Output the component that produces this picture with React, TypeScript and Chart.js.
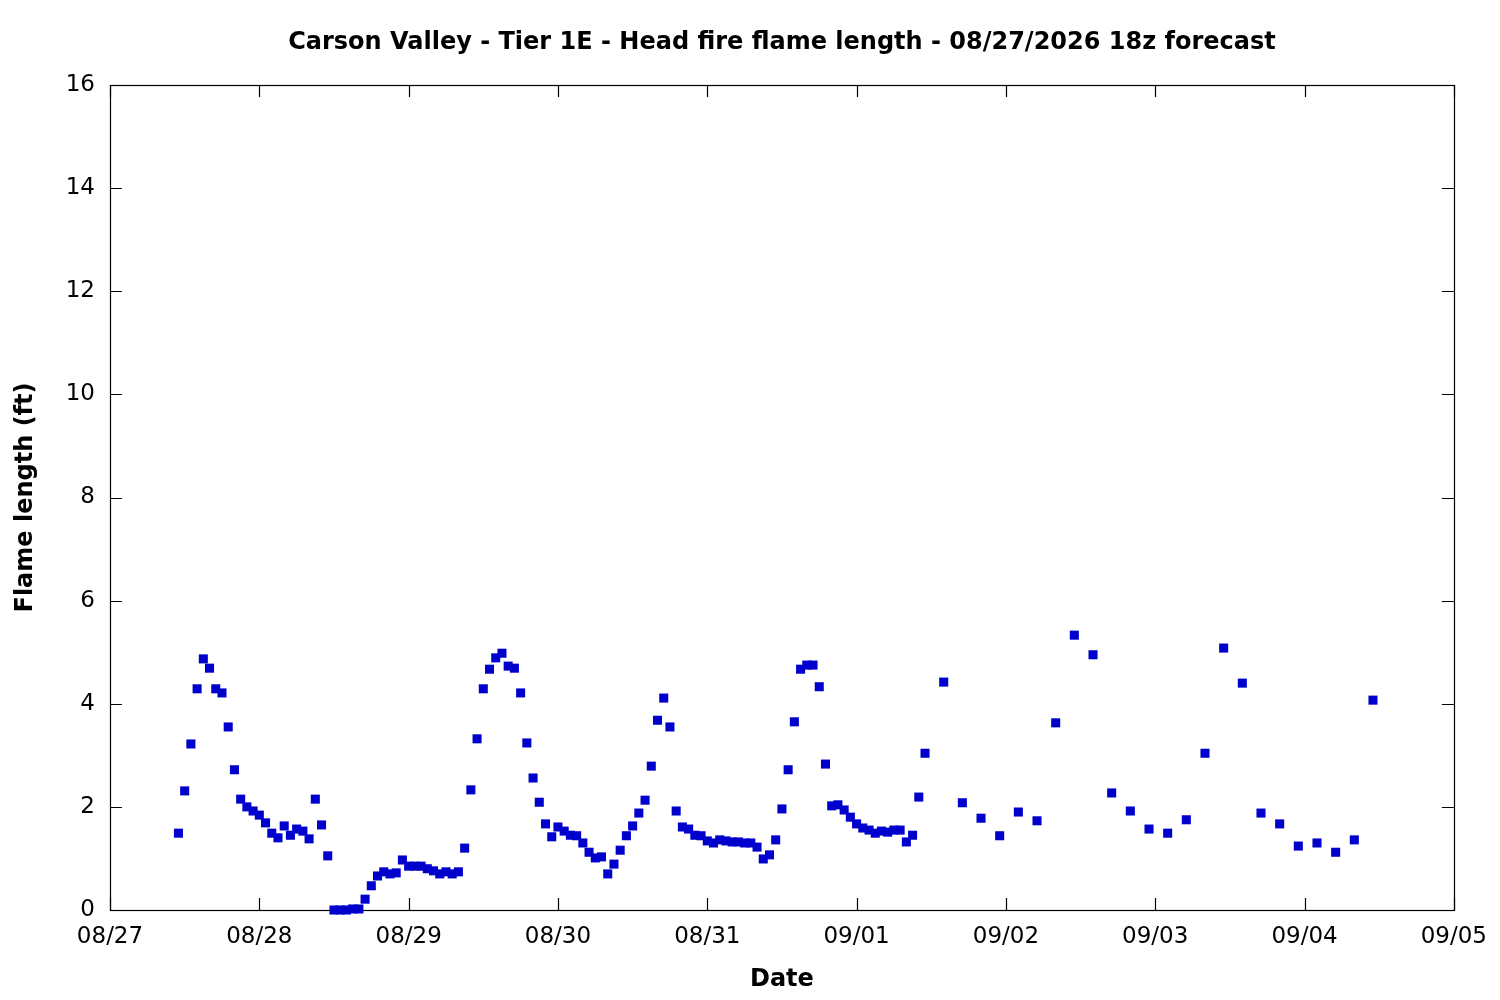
import React, { useEffect, useRef } from 'react';
import { Chart, registerables, Plugin } from 'chart.js';

Chart.register(...registerables);

// hours are counted from 08/27 00:00 local time
const dayLabels = ['08/27', '08/28', '08/29', '08/30', '08/31', '09/01', '09/02', '09/03', '09/04', '09/05'];
const yTicks = [0, 2, 4, 6, 8, 10, 12, 14, 16];

const hourlyStart = 11;
const hourlyValues = [
    1.49, 2.31, 3.22, 4.29, 4.87, 4.69, 4.29, 4.21, 3.55, 2.72, 2.15, 2.0, 1.92, 1.84, 1.69, 1.49, 1.4, 1.63, 1.45, 1.57,
    1.53, 1.38, 2.15, 1.65, 1.05, 0, 0, 0, 0.02, 0.02, 0.21, 0.47, 0.66, 0.74, 0.7, 0.72, 0.97, 0.85, 0.85, 0.85,
    0.8, 0.76, 0.7, 0.74, 0.7, 0.74, 1.2, 2.33, 3.32, 4.29, 4.67, 4.89, 4.98, 4.73, 4.69, 4.21, 3.24, 2.56, 2.09, 1.67,
    1.42, 1.61, 1.53, 1.45, 1.44, 1.3, 1.12, 1.01, 1.03, 0.7, 0.89, 1.16, 1.44, 1.63, 1.88, 2.13, 2.79, 3.68, 4.11, 3.55,
    1.92, 1.61, 1.57, 1.45, 1.44, 1.34, 1.3, 1.36, 1.34, 1.32, 1.32, 1.3, 1.3, 1.22, 0.99, 1.07, 1.36, 1.96, 2.72, 3.65,
    4.67, 4.75, 4.75, 4.33, 2.83, 2.02, 2.04, 1.94, 1.8, 1.67, 1.59, 1.55, 1.49, 1.53, 1.51, 1.55, 1.55, 1.32, 1.45, 2.19,
    3.04,
];

const threeHourlyStart = 134;
const threeHourlyValues = [
    4.42, 2.08, 1.78, 1.44, 1.9, 1.73, 3.63, 5.33, 4.95, 2.27, 1.92, 1.57, 1.49, 1.75, 3.04, 5.08, 4.4, 1.88, 1.67, 1.24,
    1.3, 1.12, 1.36, 4.07,
];

const FONT = '"DejaVu Sans", sans-serif';

// gnuplot-like frame with inward ticks on all four sides
const framePlugin: Plugin = {
    id: 'frame',
    beforeDatasetsDraw(chart) {
        const { ctx, chartArea: a, scales } = chart;
        const x = scales.x;
        const y = scales.y;
        const len = 12;
        ctx.save();
        ctx.strokeStyle = '#000';
        ctx.lineWidth = 1.2;
        ctx.beginPath();
        dayLabels.forEach((_, i) => {
            const px = Math.round(x.getPixelForValue(i * 24)) + 0.5;
            ctx.moveTo(px, a.bottom);
            ctx.lineTo(px, a.bottom - len);
            ctx.moveTo(px, a.top);
            ctx.lineTo(px, a.top + len);
        });
        yTicks.forEach((v) => {
            const py = Math.round(y.getPixelForValue(v)) + 0.5;
            ctx.moveTo(a.left, py);
            ctx.lineTo(a.left + len, py);
            ctx.moveTo(a.right, py);
            ctx.lineTo(a.right - len, py);
        });
        ctx.stroke();
        ctx.strokeRect(Math.round(a.left) + 0.5, Math.round(a.top) + 0.5, Math.round(a.right - a.left), Math.round(a.bottom - a.top));
        ctx.restore();
    },
};

const App: React.FC = () => {
    const chartRef = useRef<HTMLCanvasElement>(null);
    const chartInstanceRef = useRef<Chart | null>(null);

    useEffect(() => {
        document.body.style.margin = '0';
        if (!chartRef.current) return;
        if (chartInstanceRef.current) {
            chartInstanceRef.current.destroy();
        }

        const points = [
            ...hourlyValues.map((v, i) => ({ x: hourlyStart + i, y: v })),
            ...threeHourlyValues.map((v, i) => ({ x: threeHourlyStart + i * 3, y: v })),
        ];

        chartInstanceRef.current = new Chart(chartRef.current, {
            type: 'scatter',
            data: {
                datasets: [
                    {
                        data: points,
                        backgroundColor: '#0000cc',
                        borderColor: '#0000cc',
                        borderWidth: 0,
                        pointStyle: 'rect',
                        pointRadius: 6.4,
                        pointHoverRadius: 6.4,
                        clip: false,
                    },
                ],
            },
            options: {
                animation: false,
                responsive: true,
                maintainAspectRatio: false,
                layout: { padding: { left: 0, right: 46, top: 0, bottom: 0 } },
                plugins: {
                    legend: { display: false },
                    tooltip: { enabled: false },
                    title: {
                        display: true,
                        fullSize: false,
                        text: 'Carson Valley - Tier 1E - Head fire flame length - 08/27/2026 18z forecast',
                        color: '#000',
                        font: { family: FONT, size: 24, weight: 'bold', lineHeight: 1.2 },
                        padding: { top: 28.6, bottom: 27.6 },
                    },
                },
                scales: {
                    x: {
                        type: 'linear',
                        min: 0,
                        max: 216,
                        afterFit: (scale) => {
                            scale.height = 90;
                        },
                        afterBuildTicks: (scale) => {
                            scale.ticks = dayLabels.map((_, i) => ({ value: i * 24 }));
                        },
                        ticks: {
                            autoSkip: false,
                            maxRotation: 0,
                            color: '#000',
                            padding: 13,
                            font: { family: FONT, size: 23 },
                            callback: (value) => dayLabels[Number(value) / 24] ?? '',
                        },
                        grid: { display: false, drawTicks: false },
                        border: { display: false },
                        title: {
                            display: true,
                            text: 'Date',
                            color: '#000',
                            font: { family: FONT, size: 24, weight: 'bold', lineHeight: 1.2 },
                            padding: { top: 0, bottom: 6 },
                        },
                    },
                    y: {
                        min: 0,
                        max: 16,
                        afterFit: (scale) => {
                            scale.width = 110;
                        },
                        ticks: {
                            stepSize: 2,
                            color: '#000',
                            padding: 15,
                            font: { family: FONT, size: 23 },
                        },
                        grid: { display: false, drawTicks: false },
                        border: { display: false },
                        title: {
                            display: true,
                            text: 'Flame length (ft)',
                            color: '#000',
                            font: { family: FONT, size: 24, weight: 'bold', lineHeight: 1.2 },
                            padding: { top: 11.6, bottom: 0 },
                        },
                    },
                },
            },
            plugins: [framePlugin],
        });

        return () => {
            if (chartInstanceRef.current) {
                chartInstanceRef.current.destroy();
                chartInstanceRef.current = null;
            }
        };
    }, []);

    return (
        <div style={{ width: 1500, height: 1000, position: 'relative', background: '#fff' }}>
            <canvas ref={chartRef}></canvas>
        </div>
    );
};

export default App;
